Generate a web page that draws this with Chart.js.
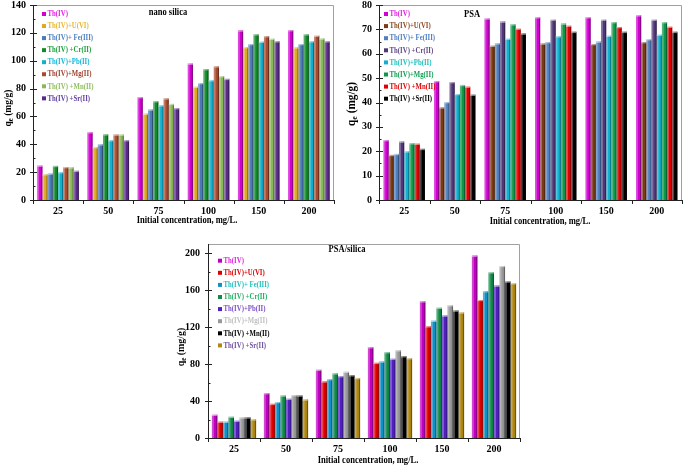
<!DOCTYPE html>
<html><head><meta charset="utf-8">
<script src="https://cdn.jsdelivr.net/npm/chart.js@4"></script>
<style>
html,body{margin:0;padding:0;background:#fff;width:685px;height:467px;overflow:hidden;position:relative}
canvas{position:absolute}
</style></head>
<body>
<canvas id="cA" width="340" height="232" style="left:0;top:0"></canvas>
<canvas id="cB" width="345" height="232" style="left:340px;top:0"></canvas>
<canvas id="cC" width="450" height="227" style="left:120px;top:240px"></canvas>
<script>
const categories = ['25','50','75','100','150','200'];
const legendLabels = ['Th(IV)','Th(IV)+U(VI)','Th(IV)+ Fe(III)','Th(IV) +Cr(II)','Th(IV)+Pb(II)','Th(IV)+Mg(II)','Th(IV) +Mn(II)','Th(IV) +Sr(II)'];
const xTitle = 'Initial concentration, mg/L.';

// nano silica
const nanoTh = [24.7, 48.7, 73.9, 98.0, 121.8, 122.0];
const nanoU  = [18.5, 38.0, 62.0, 81.3, 109.8, 109.6];
const nanoFe = [19.0, 40.0, 65.0, 84.0, 112.0, 112.0];
const nanoCr = [24.5, 47.2, 71.0, 94.0, 119.0, 119.0];
const nanoPb = [20.0, 43.0, 68.0, 86.0, 113.7, 114.0];
const nanoMg = [23.7, 47.0, 73.0, 96.0, 117.7, 118.0];
const nanoMn = [23.5, 47.0, 69.0, 89.0, 115.8, 116.0];
const nanoSr = [21.0, 43.0, 66.0, 87.0, 114.0, 114.0];

// PSA
const psaTh = [24.6, 48.8, 74.5, 75.0, 75.0, 75.8];
const psaU  = [18.5, 38.0, 63.3, 64.2, 64.0, 64.8];
const psaFe = [18.9, 40.2, 64.3, 64.8, 65.0, 66.0];
const psaCr = [24.0, 48.4, 73.2, 74.0, 74.0, 74.0];
const psaPb = [20.0, 43.5, 66.2, 67.2, 67.4, 67.8];
const psaMg = [23.3, 47.2, 72.1, 72.4, 73.0, 73.0];
const psaMn = [23.1, 46.5, 70.3, 71.5, 71.0, 71.1];
const psaSr = [21.0, 43.2, 68.3, 69.0, 69.0, 69.0];

// PSA/silica
const psTh = [25.2, 48.6, 73.9, 98.4, 148.0, 197.5];
const psU  = [17.7, 37.0, 61.3, 81.4, 121.0, 149.5];
const psFe = [17.7, 39.0, 63.8, 82.9, 127.0, 159.0];
const psCr = [23.0, 46.0, 70.0, 93.0, 141.0, 179.5];
const psPb = [18.7, 42.5, 67.0, 85.8, 132.6, 165.0];
const psMg = [22.3, 46.5, 71.7, 95.0, 143.8, 186.3];
const psMn = [22.3, 46.0, 68.0, 88.6, 138.0, 169.5];
const psSr = [20.2, 41.8, 65.0, 86.5, 136.0, 167.6];

const SERIF = '"Liberation Serif","Times New Roman",serif';

function drawText(ctx, text, x, y, size, color, align, sx){
  ctx.save();
  ctx.font = 'bold ' + size + 'px ' + SERIF;
  ctx.fillStyle = color;
  ctx.textBaseline = 'middle';
  ctx.textAlign = align;
  ctx.translate(x, y);
  ctx.scale(sx, 1);
  ctx.fillText(text, 0, 0);
  ctx.restore();
}

const decor = {
  id: 'decor',
  afterDatasetsDraw(chart){
    const ctx = chart.ctx;
    ctx.save();
    chart.data.datasets.forEach((ds, i) => {
      chart.getDatasetMeta(i).data.forEach(bar => {
        const p = bar.getProps(['x','y','base','width'], true);
        const l = p.x - p.width/2, h = p.base - p.y;
        ctx.fillStyle = 'rgba(255,255,255,0.28)';
        ctx.fillRect(l, p.y, p.width*0.35, h);
        ctx.fillStyle = 'rgba(0,0,0,0.35)';
        ctx.fillRect(l + p.width - 1.2, p.y, 1.2, h);
        ctx.fillStyle = 'rgba(255,255,255,0.5)';
        ctx.fillRect(l, p.y, p.width, 1.3);
      });
    });
    ctx.restore();
  },
  afterDraw(chart, args, o){
    const ctx = chart.ctx;
    const a = chart.chartArea;
    const ys = chart.scales.y, xs = chart.scales.x;
    ctx.save();
    // frame
    ctx.strokeStyle = '#a0a0a0'; ctx.lineWidth = 1;
    ctx.beginPath();
    ctx.moveTo(a.left, a.top + 0.5); ctx.lineTo(a.right - 0.5, a.top + 0.5); ctx.lineTo(a.right - 0.5, a.bottom);
    ctx.stroke();
    ctx.strokeStyle = '#222';
    ctx.beginPath();
    ctx.moveTo(a.left + 0.5, a.top); ctx.lineTo(a.left + 0.5, a.bottom + 0.5); ctx.lineTo(a.right, a.bottom + 0.5);
    ctx.stroke();
    // y ticks
    ctx.beginPath();
    for (let v = 0; v <= o.yMax + 1e-9; v += o.minor){
      const py = Math.round(ys.getPixelForValue(v)) + 0.5;
      const major = Math.abs(v / o.major - Math.round(v / o.major)) < 1e-6;
      if (major){ ctx.moveTo(a.left - 3, py); ctx.lineTo(a.left + 4, py); }
      else { ctx.moveTo(a.left, py); ctx.lineTo(a.left + 2.5, py); }
    }
    // x ticks at group boundaries
    const n = chart.data.labels.length;
    for (let i = 0; i <= n; i++){
      let px;
      if (i === 0) px = a.left; else if (i === n) px = a.right;
      else px = (xs.getPixelForValue(i - 1) + xs.getPixelForValue(i)) / 2;
      px = Math.round(px) + 0.5;
      ctx.moveTo(px, a.bottom); ctx.lineTo(px, a.bottom + 4);
    }
    ctx.stroke();
    // legend
    chart.data.datasets.forEach((ds, i) => {
      const y = o.legY + i * o.legDy;
      ctx.fillStyle = ds.backgroundColor;
      ctx.fillRect(o.legX, y - 2, 4, 4);
      drawText(ctx, ds.label, o.legX + 5.5, y, 8.5, o.textColors[i], 'left', 0.8);
    });
    // chart title
    drawText(ctx, o.title, o.titleX, o.titleY, 10, '#000', 'center', 0.85);
    // x title
    drawText(ctx, xTitle, o.xTitleX, o.xTitleY, 9.5, '#000', 'center', 0.9);
    // y title: q_e (mg/g)
    const fs = o.yTitleSize, fsub = fs * 0.7;
    ctx.save();
    ctx.translate(o.yTitleX, o.yTitleY);
    ctx.rotate(-Math.PI/2);
    ctx.scale(0.9, 1);
    ctx.fillStyle = '#000';
    ctx.textBaseline = 'middle';
    ctx.font = 'bold ' + fs + 'px ' + SERIF;
    const w1 = ctx.measureText('q').width;
    const rest = ' (mg/g)';
    ctx.font = 'bold ' + fsub + 'px ' + SERIF;
    const w2 = ctx.measureText('e').width;
    ctx.font = 'bold ' + fs + 'px ' + SERIF;
    const w3 = ctx.measureText(rest).width;
    let sx = -(w1 + w2 + w3) / 2;
    ctx.textAlign = 'left';
    ctx.fillText('q', sx, 0);
    ctx.font = 'bold ' + fsub + 'px ' + SERIF;
    ctx.fillText('e', sx + w1, fs * 0.25);
    ctx.font = 'bold ' + fs + 'px ' + SERIF;
    ctx.fillText(rest, sx + w1 + w2, 0);
    ctx.restore();
    ctx.restore();
  }
};

function makeChart(id, series, colors, textColors, cfg){
  const datasets = series.map((s, i) => ({
    label: legendLabels[i],
    data: s,
    backgroundColor: colors[i],
    borderWidth: 0,
    categoryPercentage: cfg.catPct,
    barPercentage: 1.0
  }));
  return new Chart(document.getElementById(id), {
    type: 'bar',
    data: { labels: categories, datasets },
    plugins: [decor],
    options: {
      responsive: false,
      animation: false,
      events: [],
      layout: { padding: cfg.padding },
      plugins: {
        legend: { display: false },
        tooltip: { enabled: false },
        decor: Object.assign({ textColors }, cfg.decor)
      },
      scales: {
        x: {
          grid: { display: false, drawTicks: false },
          border: { display: false },
          ticks: { font: { family: SERIF, weight: 'bold', size: 10 }, color: '#000', padding: cfg.xPad, maxRotation: 0 },
          afterFit(s){ s.height = cfg.xHeight; }
        },
        y: {
          min: 0, max: cfg.decor.yMax,
          grid: { display: false, drawTicks: false },
          border: { display: false },
          ticks: { font: { family: SERIF, weight: 'bold', size: 10 }, color: '#000', padding: cfg.yPad },
          afterBuildTicks(s){
            const t = [];
            for (let v = 0; v <= cfg.decor.yMax + 1e-9; v += cfg.decor.major) t.push({ value: v });
            s.ticks = t;
          },
          afterFit(s){ s.width = cfg.yWidth; s.paddingTop = 0; s.paddingBottom = 0; }
        }
      }
    }
  });
}

makeChart('cA',
  [nanoTh, nanoU, nanoFe, nanoCr, nanoPb, nanoMg, nanoMn, nanoSr],
  ['#d000d0','#e0a820','#4a7ab8','#128a2a','#10b0d0','#a84a30','#88b858','#5a2a8a'],
  ['#e020e0','#e8b830','#5080c0','#20a040','#10b8d8','#a04030','#90c060','#6040a0'],
  { catPct: 0.83, padding: {left:0, right:6, top:5, bottom:0}, xHeight: 32, yWidth: 33, xPad: 5, yPad: 7,
    decor: { yMax: 140, major: 20, minor: 10, legX: 42, legY: 14, legDy: 12.05,
      title: 'nano silica', titleX: 168, titleY: 12, xTitleX: 187, xTitleY: 221, yTitleX: 8, yTitleY: 108, yTitleSize: 10.5 } });

makeChart('cB',
  [psaTh, psaU, psaFe, psaCr, psaPb, psaMg, psaMn, psaSr],
  ['#d000d0','#7a3a14','#5080c0','#503878','#10b0d0','#10984a','#e00000','#000000'],
  ['#e020e0','#8a4a24','#5080c0','#604888','#20c0c0','#10a050','#e00000','#000000'],
  { catPct: 0.82, padding: {left:0, right:3, top:5, bottom:0}, xHeight: 32, yWidth: 39, xPad: 5, yPad: 7,
    decor: { yMax: 80, major: 10, minor: 5, legX: 44, legY: 14, legDy: 12.1,
      title: 'PSA', titleX: 132, titleY: 14, xTitleX: 200, xTitleY: 222, yTitleX: 12, yTitleY: 104, yTitleSize: 12.5 } });

makeChart('cC',
  [psTh, psU, psFe, psCr, psPb, psMg, psMn, psSr],
  ['#c000c0','#e00000','#1090c8','#108a48','#5020c0','#989898','#000000','#b08810'],
  ['#e020e0','#e00000','#20c0c0','#20b060','#8050c8','#c0c0c0','#000000','#7050a0'],
  { catPct: 0.85, padding: {left:0, right:50, top:4, bottom:0}, xHeight: 29, yWidth: 88, xPad: 5, yPad: 8,
    decor: { yMax: 210, major: 40, minor: 20, legX: 98, legY: 20.7, legDy: 12.1,
      title: 'PSA/silica', titleX: 227, titleY: 9.5, xTitleX: 248, xTitleY: 221, yTitleX: 61, yTitleY: 107, yTitleSize: 11 } });
</script>
</body></html>
